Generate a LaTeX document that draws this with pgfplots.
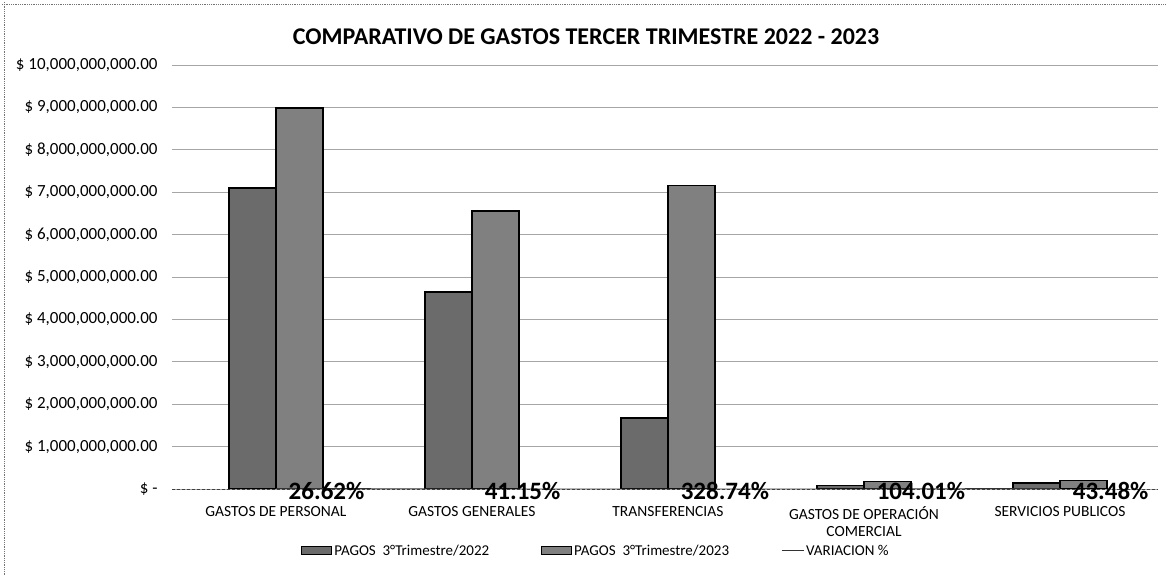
\documentclass[border=0pt]{standalone}
\usepackage{fontspec}
\setmainfont{Carlito}
\usepackage{pgfplots}
\pgfplotsset{compat=1.18}
\usepackage{pgfplotstable}

\pgfplotstableread{
x y
0 7100000000
1 4650000000
2 1670000000
3 85000000
4 140000000
}\pagosA
\pgfplotstableread{
x y
0 8990000000
1 6560000000
2 7160000000
3 173000000
4 200000000
}\pagosB
\pgfplotstableread{
x y pct
0 0.2662 26.62
1 0.4115 41.15
2 3.2874 328.74
3 1.0401 104.01
4 0.4348 43.48
}\variacion

\definecolor{barA}{gray}{0.42}
\definecolor{barB}{gray}{0.50}

\begin{document}
\begin{tikzpicture}[x=1pt,y=1pt]
\path (0,0) rectangle (1168,575);
\draw[black!55, densely dotted, line width=0.8pt] (2,571) -- (1166,571);
\draw[black!55, densely dotted, line width=0.8pt] (4,573) -- (4,0);
\begin{axis}[
  at={(172pt,86pt)}, anchor=south west,
  scale only axis, width=986pt, height=424pt,
  xmin=-0.53, xmax=4.5, ymin=0, ymax=10000000000,
  scaled y ticks=false,
  axis line style={draw=none},
  major tick length=0pt,
  /pgf/number format/assume math mode=true,
  ytick={0,1000000000,2000000000,3000000000,4000000000,5000000000,6000000000,7000000000,8000000000,9000000000,10000000000},
  yticklabels={{\$ -\hspace{12pt}},{\$ 1,000,000,000.00},{\$ 2,000,000,000.00},{\$ 3,000,000,000.00},{\$ 4,000,000,000.00},{\$ 5,000,000,000.00},{\$ 6,000,000,000.00},{\$ 7,000,000,000.00},{\$ 8,000,000,000.00},{\$ 9,000,000,000.00},{\$ 10,000,000,000.00}},
  yticklabel style={font=\fontsize{17}{19}\selectfont, xshift=-11pt},
  ymajorgrids, grid style={black!35, line width=0.6pt},
  extra y ticks={0}, extra y tick labels={},
  extra y tick style={grid style={black!75, densely dashed, line width=0.8pt}},
  xtick={0,1,2,3,4},
  xticklabels={GASTOS DE PERSONAL, GASTOS GENERALES, TRANSFERENCIAS, {GASTOS DE OPERACIÓN\\COMERCIAL}, SERVICIOS PUBLICOS},
  xticklabel style={font=\fontsize{15.5}{17}\selectfont, align=center, anchor=north, yshift=-14pt},
  title={\textbf{COMPARATIVO DE GASTOS TERCER TRIMESTRE 2022 - 2023}},
  title style={font=\fontsize{24}{27}\selectfont, at={(axis description cs:0.42,1)}, anchor=center, yshift=22pt},
  legend columns=3,
  legend style={draw=none, fill=none, font=\fontsize{15}{17}\selectfont, at={(axis description cs:0.43,-0.146)}, anchor=center, /tikz/every even column/.append style={column sep=50pt}},
  legend cell align=left,
]
\addplot[ybar, bar width=47pt, bar shift=-23.5pt, fill=barA, draw=black, line width=1.4pt,
  area legend, legend image code/.code={\draw[fill=barA,draw=black,line width=1pt] (0pt,-4pt) rectangle (30pt,4pt);}]
  table[x=x,y=y] {\pagosA};
\addlegendentry{PAGOS\ \ 3°Trimestre/2022}
\addplot[ybar, bar width=47pt, bar shift=23.5pt, fill=barB, draw=black, line width=1.4pt,
  area legend, legend image code/.code={\draw[fill=barB,draw=black,line width=1pt] (0pt,-4pt) rectangle (30pt,4pt);}]
  table[x=x,y=y] {\pagosB};
\addlegendentry{PAGOS\ \ 3°Trimestre/2023}
\addplot[black!80, line width=1pt, mark=none, sharp plot,
  point meta=explicit,
  nodes near coords={\textbf{\pgfmathprintnumber[fixed,fixed zerofill,precision=2]{\pgfplotspointmeta}\%}},
  every node near coord/.append style={font=\fontsize{25}{27}\selectfont, anchor=west, xshift=9pt, yshift=-2pt, text=black},
  legend image code/.code={\draw[black!80,line width=1pt] (0pt,0pt) -- (22pt,0pt);}]
  table[x=x,y=y,meta=pct] {\variacion};
\addlegendentry{VARIACION \%}
\end{axis}
\end{tikzpicture}
\end{document}
